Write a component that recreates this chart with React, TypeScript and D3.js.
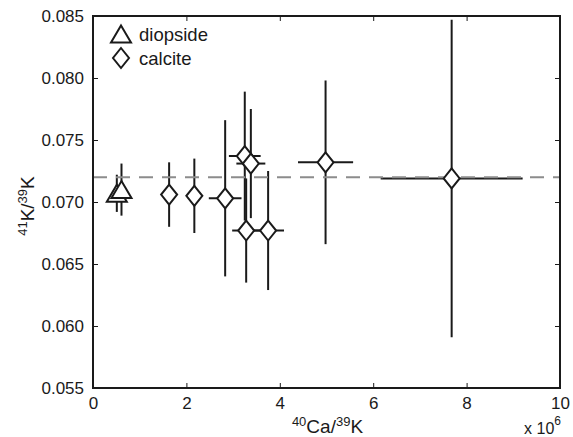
import { useEffect, useRef } from "react";
import * as d3 from "d3";

// 40Ca/39K in units of 1e6, 41K/39K ratio, with 1-sigma errors
const diopsideX = [0.51, 0.61];
const diopsideY = [0.0707, 0.071];
const diopsideXErr = [0.05, 0.05];
const diopsideYErr = [0.0015, 0.0021];

const calciteX = [1.63, 2.17, 2.83, 3.25, 3.38, 3.28, 3.75, 4.98, 7.68];
const calciteY = [0.0706, 0.0705, 0.0703, 0.0737, 0.0731, 0.0677, 0.0677, 0.0732, 0.0719];
const calciteXErr = [0.1, 0.1, 0.35, 0.34, 0.31, 0.3, 0.34, 0.59, 1.52];
const calciteYErr = [0.0026, 0.003, 0.0063, 0.0052, 0.0044, 0.0042, 0.0048, 0.0066, 0.0128];

const referenceRatio = 0.072;

const xTicks = [0, 2, 4, 6, 8, 10];
const yTicks = [0.055, 0.06, 0.065, 0.07, 0.075, 0.08, 0.085];

const legendLabels = ["diopside", "calcite"];

type Pt = { x: number; y: number; xe: number; ye: number };

const App = () => {
  const svgRef = useRef<SVGSVGElement>(null);

  useEffect(() => {
    const W = 573;
    const H = 437;
    const margin = { top: 16, right: 13, bottom: 49, left: 93 };
    const width = W - margin.left - margin.right;
    const height = H - margin.top - margin.bottom;
    const font = "'Liberation Sans', Arial, Helvetica, sans-serif";
    const ink = "#1a1a1a";

    const root = d3.select(svgRef.current);
    root.selectAll("*").remove();
    root.attr("width", W).attr("height", H);

    const svg = root
      .append("g")
      .attr("transform", `translate(${margin.left},${margin.top})`);

    const x = d3.scaleLinear().domain([0, 10]).range([0, width]);
    const y = d3.scaleLinear().domain([0.055, 0.085]).range([height, 0]);

    const diopside: Pt[] = diopsideX.map((v, i) => ({
      x: v, y: diopsideY[i], xe: diopsideXErr[i], ye: diopsideYErr[i],
    }));
    const calcite: Pt[] = calciteX.map((v, i) => ({
      x: v, y: calciteY[i], xe: calciteXErr[i], ye: calciteYErr[i],
    }));

    // axes with inward ticks
    const styleAxis = (g: d3.Selection<SVGGElement, unknown, null, undefined>) => {
      g.select(".domain").remove();
      g.selectAll(".tick line").attr("stroke", ink).attr("stroke-width", 1);
      g.selectAll(".tick text")
        .attr("font-family", font)
        .attr("font-size", 17)
        .attr("fill", ink);
    };

    svg.append("g")
      .attr("transform", `translate(0,${height})`)
      .call(d3.axisBottom(x).tickValues(xTicks).tickSize(-5).tickPadding(9).tickFormat(d3.format("d")))
      .call(styleAxis);
    svg.append("g")
      .call(d3.axisTop(x).tickValues(xTicks).tickSize(-5).tickFormat(() => ""))
      .call(styleAxis);
    svg.append("g")
      .call(d3.axisLeft(y).tickValues(yTicks).tickSize(-5).tickPadding(9).tickFormat(d3.format(".3f")))
      .call(styleAxis);
    svg.append("g")
      .attr("transform", `translate(${width},0)`)
      .call(d3.axisRight(y).tickValues(yTicks).tickSize(-5).tickFormat(() => ""))
      .call(styleAxis);

    // error bars
    const drawErr = (data: Pt[]) => {
      const g = svg.append("g").attr("stroke", ink).attr("stroke-width", 2);
      g.selectAll(".v")
        .data(data)
        .join("line")
        .attr("x1", (d) => x(d.x))
        .attr("x2", (d) => x(d.x))
        .attr("y1", (d) => y(d.y + d.ye))
        .attr("y2", (d) => y(d.y - d.ye));
      g.selectAll(".h")
        .data(data)
        .join("line")
        .attr("x1", (d) => x(d.x - d.xe))
        .attr("x2", (d) => x(d.x + d.xe))
        .attr("y1", (d) => y(d.y))
        .attr("y2", (d) => y(d.y));
    };
    drawErr(diopside);
    drawErr(calcite);

    // reference line
    svg.append("line")
      .attr("x1", 0)
      .attr("x2", width)
      .attr("y1", y(referenceRatio))
      .attr("y2", y(referenceRatio))
      .attr("stroke", "#8c8c8c")
      .attr("stroke-width", 2)
      .attr("stroke-dasharray", "14,9");

    const triPath = "M0,-8.5L10,8.5L-10,8.5Z";
    const diaPath = "M0,-10L8,0L0,10L-8,0Z";

    const drawMarkers = (data: Pt[], path: string) => {
      svg.append("g")
        .selectAll("path")
        .data(data)
        .join("path")
        .attr("d", path)
        .attr("transform", (d) => `translate(${x(d.x)},${y(d.y)})`)
        .attr("fill", "white")
        .attr("stroke", ink)
        .attr("stroke-width", 2)
        .attr("stroke-linejoin", "miter");
    };
    drawMarkers(diopside, triPath);
    drawMarkers(calcite, diaPath);

    // box
    svg.append("rect")
      .attr("width", width)
      .attr("height", height)
      .attr("fill", "none")
      .attr("stroke", ink)
      .attr("stroke-width", 2);

    // legend
    const legend = root.append("g").attr("font-family", font).attr("font-size", 18.5).attr("fill", ink);
    [triPath, diaPath].forEach((p, i) => {
      const cy = 34 + i * 24;
      legend.append("path")
        .attr("d", p)
        .attr("transform", `translate(121,${cy})`)
        .attr("fill", "white")
        .attr("stroke", ink)
        .attr("stroke-width", 2);
      legend.append("text")
        .attr("x", 139)
        .attr("y", cy + 7)
        .text(legendLabels[i]);
    });

    // axis labels with superscripts
    const xl = root.append("text")
      .attr("x", margin.left + width / 2 + 1)
      .attr("y", 433)
      .attr("text-anchor", "middle")
      .attr("font-family", font)
      .attr("font-size", 19)
      .attr("fill", ink);
    xl.append("tspan").attr("font-size", 13).attr("dy", -7).text("40");
    xl.append("tspan").attr("dy", 7).text("Ca/");
    xl.append("tspan").attr("font-size", 13).attr("dy", -7).text("39");
    xl.append("tspan").attr("dy", 7).text("K");

    const yl = root.append("text")
      .attr("transform", `translate(34,206) rotate(-90)`)
      .attr("text-anchor", "middle")
      .attr("font-family", font)
      .attr("font-size", 19)
      .attr("fill", ink);
    yl.append("tspan").attr("font-size", 13).attr("dy", -7).text("41");
    yl.append("tspan").attr("dy", 7).text("K/");
    yl.append("tspan").attr("font-size", 13).attr("dy", -7).text("39");
    yl.append("tspan").attr("dy", 7).text("K");

    const ex = root.append("text")
      .attr("x", 561)
      .attr("y", 434)
      .attr("text-anchor", "end")
      .attr("font-family", font)
      .attr("font-size", 16)
      .attr("fill", ink);
    ex.append("tspan").text("x 10");
    ex.append("tspan").attr("font-size", 12).attr("dy", -9).text("6");
  }, []);

  return (
    <svg
      ref={svgRef}
      style={{ position: "absolute", left: 0, top: 0, background: "white" }}
    ></svg>
  );
};

export default App;
